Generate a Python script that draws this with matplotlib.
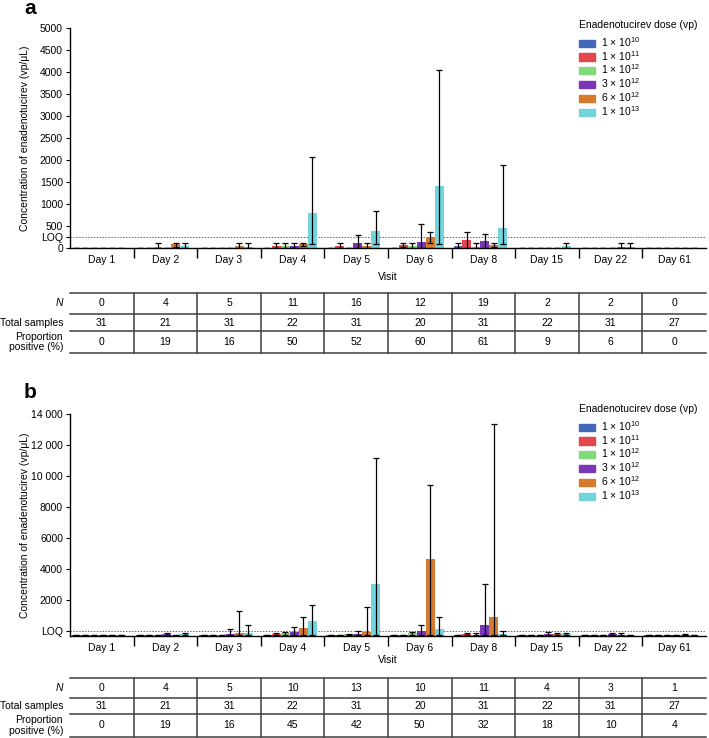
import matplotlib
matplotlib.use("Agg")
import matplotlib.pyplot as plt
from matplotlib.patches import Patch
import numpy as np

plt.rcParams["font.family"] = ["Liberation Sans", "DejaVu Sans"]
plt.rcParams["font.size"] = 7.5
plt.rcParams["mathtext.fontset"] = "custom"
plt.rcParams["mathtext.rm"] = "Liberation Sans"
plt.rcParams["mathtext.it"] = "Liberation Sans:italic"
plt.rcParams["mathtext.bf"] = "Liberation Sans:bold"

### Data ###
days = ["Day 1", "Day 2", "Day 3", "Day 4", "Day 5", "Day 6", "Day 8", "Day 15", "Day 22", "Day 61"]
doses = ["1 × 10$^{10}$", "1 × 10$^{11}$", "1 × 10$^{12}$",
         "3 × 10$^{12}$", "6 × 10$^{12}$", "1 × 10$^{13}$"]
dose_colors = ["#4169b8", "#e0474f", "#80dc7b", "#7b36b8", "#d67a30", "#72d4dc"]

# panel a: bar height, upper and lower end of error bar (vp/uL)
mean_a = [
    [0, 0, 0, 0, 0, 0, 40, 0, 0, 0],
    [0, 0, 0, 40, 40, 70, 180, 0, 0, 0],
    [0, 30, 0, 40, 0, 40, 20, 0, 0, 0],
    [0, 0, 0, 40, 110, 140, 150, 0, 0, 0],
    [0, 80, 40, 90, 50, 240, 60, 0, 20, 0],
    [0, 40, 30, 790, 380, 1420, 460, 40, 20, 0],
]
high_a = [
    [0, 0, 0, 0, 0, 0, 110, 0, 0, 0],
    [0, 0, 0, 110, 110, 120, 370, 0, 0, 0],
    [0, 110, 0, 110, 0, 110, 110, 0, 0, 0],
    [0, 0, 0, 110, 290, 540, 320, 0, 0, 0],
    [0, 120, 110, 120, 110, 360, 110, 0, 110, 0],
    [0, 110, 110, 2060, 830, 4040, 1890, 110, 110, 0],
]
low_a = [
    [0, 0, 0, 0, 0, 0, 0, 0, 0, 0],
    [0, 0, 0, 0, 0, 20, 0, 0, 0, 0],
    [0, 0, 0, 0, 0, 0, 0, 0, 0, 0],
    [0, 0, 0, 0, 0, 0, 0, 0, 0, 0],
    [0, 30, 0, 40, 0, 120, 20, 0, 0, 0],
    [0, 0, 0, 100, 100, 100, 100, 0, 0, 0],
]

# panel b (axis starts below the LOQ line)
mean_b = [
    [-240, -240, -240, -240, -240, -240, -240, -240, -240, -240],
    [-240, -240, -240, -200, -240, -240, -200, -240, -240, -240],
    [-240, -240, -240, -120, -200, -100, -240, -240, -240, -240],
    [-240, -180, -190, -60, -170, 0, 410, -150, -200, -240],
    [-240, -240, -100, 200, -30, 4650, 910, -200, -240, -240],
    [-240, -200, -80, 670, 3040, 180, -190, -200, -240, -240],
]
high_b = [
    [-240, -240, -240, -240, -240, -240, -240, -240, -240, -240],
    [-240, -240, -240, -120, -240, -240, -120, -240, -240, -240],
    [-240, -240, -240, -60, -190, -40, -120, -240, -240, -240],
    [-240, -120, 150, 260, 50, 390, 3050, -40, -120, -240],
    [-240, -240, 1320, 910, 1590, 9430, 13380, -100, -120, -150],
    [-240, -120, 440, 1680, 11190, 910, 0, -100, -240, -240],
]
low_b = -240

n_a = [0, 4, 5, 11, 16, 12, 19, 2, 2, 0]
total_a = [31, 21, 31, 22, 31, 20, 31, 22, 31, 27]
prop_a = [0, 19, 16, 50, 52, 60, 61, 9, 6, 0]
n_b = [0, 4, 5, 10, 13, 10, 11, 4, 3, 1]
total_b = [31, 21, 31, 22, 31, 20, 31, 22, 31, 27]
prop_b = [0, 19, 16, 45, 42, 50, 32, 18, 10, 4]

loq_a = 250
loq_b = 0
yticks_a = [0, loq_a, 500, 1000, 1500, 2000, 2500, 3000, 3500, 4000, 4500, 5000]
ylabels_a = ["0", "LOQ", "500", "1000", "1500", "2000", "2500", "3000", "3500", "4000", "4500", "5000"]
yticks_b = [loq_b, 2000, 4000, 6000, 8000, 10000, 12000, 14000]
ylabels_b = ["LOQ", "2000", "4000", "6000", "8000", "10 000", "12 000", "14 000"]

W, H = 709, 738
fig = plt.figure(figsize=(W / 100, H / 100), dpi=100)


def axes_px(left, top, right, bottom):
    return fig.add_axes([left / W, 1 - bottom / H, (right - left) / W, (bottom - top) / H])


bw = 0.141


def bar_panel(ax, top_px, means, highs, lows, base, ylim, yticks, ylabels, loq):
    for k in range(len(doses)):
        x = np.arange(len(days)) + 0.03 + bw / 2 + k * bw
        m = np.array(means[k], dtype=float)
        hi = np.array(highs[k], dtype=float)
        lo = np.array(lows[k], dtype=float) if np.ndim(lows) else np.full(len(days), lows, dtype=float)
        ax.bar(x, m - base, bottom=base, width=bw, color=dose_colors[k], zorder=2)
        ax.errorbar(x, m, yerr=[np.clip(m - lo, 0, None), np.clip(hi - m, 0, None)], fmt="none",
                    ecolor="black", elinewidth=0.9, capsize=2.4, capthick=0.9, zorder=3)
    ax.axhline(loq, color="0.4", ls=(0, (1.5, 1.5)), lw=0.7, zorder=1)
    ax.set_xlim(0, len(days))
    ax.set_ylim(*ylim)
    ax.set_yticks(yticks)
    ax.set_yticklabels(ylabels)
    ax.set_xticks(np.arange(len(days)) + 0.5)
    ax.set_xticklabels(days)
    ax.set_xticks(np.arange(1, len(days)), minor=True)
    ax.tick_params(axis="x", which="major", length=0, pad=5)
    ax.tick_params(axis="x", which="minor", length=7, width=1, direction="out")
    ax.tick_params(axis="y", length=3, width=0.8, pad=2)
    for s in ["top", "right"]:
        ax.spines[s].set_visible(False)
    for s in ["left", "bottom"]:
        ax.spines[s].set_linewidth(1)
    ax.set_ylabel("Concentration of enadenotucirev (vp/μL)")
    ax.yaxis.set_label_coords(-0.063, 0.5)
    # legend title drawn separately so the gap under it can be set
    fig.text(579 / W, 1 - (top_px - 3) / H, "Enadenotucirev dose (vp)", ha="left", va="center")
    handles = [Patch(color=c) for c in dose_colors]
    ax.legend(handles, doses, loc="upper left", frameon=False,
              bbox_to_anchor=(579 / W, 1 - (top_px + 7) / H), bbox_transform=fig.transFigure,
              handlelength=1.55, handleheight=0.7, borderpad=0,
              labelspacing=0.0, handletextpad=0.6, borderaxespad=0)


def table_panel(tax, lines, rows):
    tax.set_xlim(0, len(days))
    tax.set_ylim(lines[-1], lines[0])
    tax.axis("off")
    for y in lines:
        tax.plot([0, len(days)], [y, y], color="0.25", lw=1.1, clip_on=False)
    for i in range(1, len(days)):
        tax.plot([i, i], [lines[0], lines[-1]], color="0.25", lw=1.1, clip_on=False)
    labels = ["N", "Total samples", "Proportion\npositive (%)"]
    for r, vals in enumerate(rows):
        yc = (lines[r] + lines[r + 1]) / 2
        tax.text(-0.11, yc, labels[r], ha="right", va="center", clip_on=False,
                 style="italic" if r == 0 else "normal", linespacing=1.05)
        for i, v in enumerate(vals):
            tax.text(i + 0.5, yc, str(v), ha="center", va="center")


ax_a = axes_px(70, 28, 706, 248)
bar_panel(ax_a, 28, mean_a, high_a, low_a, 0, (0, 5000), yticks_a, ylabels_a, loq_a)
fig.text(388 / W, 1 - 277 / H, "Visit", ha="center", va="center")
fig.text(24 / W, 1 - 8 / H, "a", fontsize=15, fontweight="bold", va="center")
table_panel(axes_px(70, 293, 706, 353), [293, 314, 331, 353], [n_a, total_a, prop_a])

ax_b = axes_px(70, 414, 706, 636)
bar_panel(ax_b, 412, mean_b, high_b, low_b, -300, (-300, 14000), yticks_b, ylabels_b, loq_b)
fig.text(388 / W, 1 - 660 / H, "Visit", ha="center", va="center")
fig.text(24 / W, 1 - 392 / H, "b", fontsize=15, fontweight="bold", va="center")
table_panel(axes_px(70, 678, 706, 737), [678, 698, 714, 737], [n_b, total_b, prop_b])

fig.savefig("out.png", dpi=100)
